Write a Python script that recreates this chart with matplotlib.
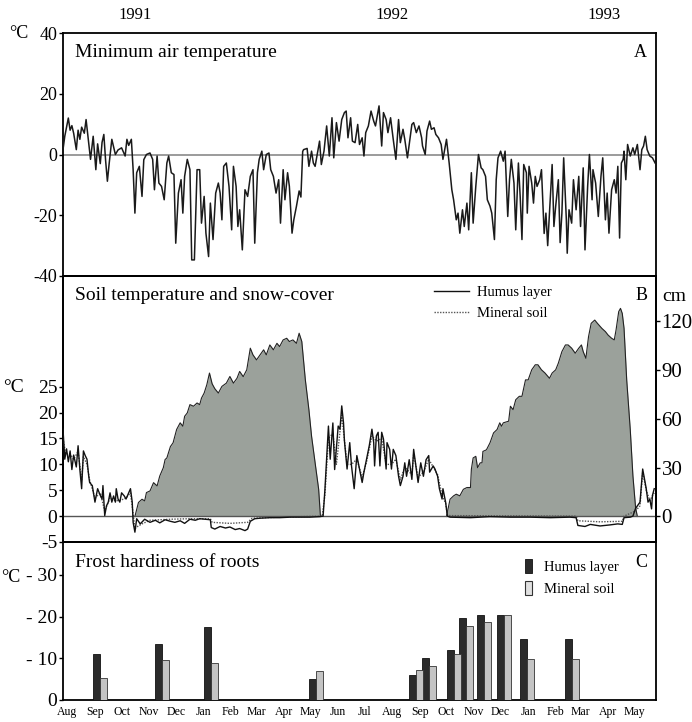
import datetime as dt
import numpy as np
import matplotlib
matplotlib.use("Agg")
import matplotlib.pyplot as plt
from matplotlib.lines import Line2D
from matplotlib.patches import Patch
import matplotlib.transforms as mtransforms

plt.rcParams['font.family'] = ['Liberation Serif', 'DejaVu Serif']

# ---------------- DATA (x = days since 1 Aug 1991) ----------------
air_day = [0, 2, 6, 8, 10, 12, 15, 17, 19, 21, 24, 26, 31, 34, 37, 39, 42, 44, 46, 48, 50, 52, 55, 59, 62, 66,
           70, 72, 74, 77, 79, 81, 83, 86, 89, 91, 94, 98, 101, 103, 106, 108, 111, 114, 117, 119, 122, 125, 127,
           130, 133, 135, 137, 140, 143, 145, 148, 151, 154, 156, 159, 161, 164, 166, 169, 172, 175, 177, 179,
           181, 184, 187, 190, 192, 195, 197, 199, 202, 205, 208, 211, 214, 216, 219, 221, 224, 226, 229, 232,
           234, 237, 240, 243, 245, 248, 250, 253, 255, 258, 260, 263, 266, 268, 270, 271, 275, 277, 280, 282,
           284, 286, 289, 291, 294, 297, 300, 303, 305, 308, 311, 314, 317, 319, 321, 324, 326, 329, 332, 334,
           337, 339, 341, 344, 347, 350, 352, 354, 356, 359, 361, 364, 366, 369, 372, 375, 378, 380, 383, 385,
           388, 390, 393, 395, 398, 401, 404, 405, 408, 410, 413, 415, 418, 420, 423, 426, 428, 430, 432, 435,
           438, 440, 443, 445, 447, 450, 452, 455, 457, 460, 462, 465, 468, 471, 473, 476, 478, 481, 483, 486,
           488, 490, 493, 496, 498, 501, 503, 505, 508, 510, 513, 515, 517, 519, 522, 523, 525, 528, 530, 532,
           534, 537, 539, 542, 544, 546, 548, 551, 553, 555, 558, 560, 562, 564, 567, 568, 570, 573, 575, 578,
           581, 583, 586, 588, 591, 593, 596, 597, 600, 603, 606, 608, 611, 613, 615, 618, 621, 623, 625, 627,
           629, 631, 632, 634, 636, 639, 642, 644, 647, 650, 652, 654, 656, 658, 661, 664, 667]
air_min = [1.6, 6, 12, 8, 9.5, 7, 1.6, 8, 5, 9, 7, 11.5, -1.6, 6, -5, 3.5, -3, 4, 6.6, -2, -8.8, -3, 5, 0, 1.5, 2.2,
           -0.5, 5, 3, 5, -5, -19.3, -6, -3.9, -13.8, -1.7, 0, 0.5, -1.6, -11.6, -0.5, -9.4, -10.5, -14.9, -2.8,
           -0.5, -6, -6.6, -29.2, -12.7, -8.3, -19.3, -7.2, -1.6, -5, -34.7, -34.7, -5, -5, -22.6, -13.8, -25.9,
           -33.6, -16, -28, -12.7, -9.4, -12.7, -21.5, -3.9, -2.8, -10.5, -24.8, -3.9, -10.5, -23.7, -18.2, -31.4,
           -11.6, -13.8, -7.2, -5, -29.2, -6, -1.6, 1.1, -5, 0, 0.5, -5, -7.2, -12.7, -8.3, -22.6, -5, -14.9, -6,
           -10.5, -25.9, -21.5, -17, -12, -14, 1, 1.6, 2, -3.9, 1.1, -2.8, -3.9, -0.5, 4.4, -3.3, 1.1, 9.4, -0.5,
           12.1, -1.1, 10.5, 4.4, 11.5, 13.8, 14.3, 5.5, 12.1, 4.4, 3.9, 9.9, 3.3, 5.5, -0.5, 7.2, 9.4, 14.3, 11,
           9.4, 12.7, 16, 2.8, 13.8, 11.5, 7.2, 12.1, 5, -1.6, 11.5, 3.9, 8.3, 5, -1.1, 3.3, 9.9, 10.5, 7.2, 9.4,
           5.5, 2.8, 0, 7.7, 11, 8.3, 8.8, 6.6, 5.5, 3.3, -1.6, 1.6, 5, -2.8, -11.6, -14.9, -21.5, -19.3, -25.9,
           -18.2, -23.7, -16, -24.8, -6, -22.6, -10.5, 0, -4.4, -5, -7.2, -14.9, -17, -19.3, -28, -8.3, -1.1, 1.1,
           -2.2, 1.1, -20.4, -8.3, -1.6, -9.4, -24.8, -2.8, -13.8, -28, -3.3, -6, -19.3, -3.9, -9.4, -16, -7.2,
           -10.5, -8.3, -5, -26, -19.3, -30, -19.3, -3.3, -23.7, -17, -8.3, -29, -19.3, -1.1, -21.5, -32.5, -18.2,
           -22.6, -8.3, -18.2, -7.2, -23.7, -4.4, -31.4, -10.5, 0, -14.9, -5, -9.4, -20.4, -7.2, -1.1, -21.5,
           -12.7, -25.9, -11.6, -8.3, -12.7, -3.9, -27.5, -2.8, -1.6, 1.1, -8.3, 3.3, -0.5, 2.2, 0, 3.3, -5, 1.6,
           2.8, 6, 1.6, -0.5, -1.1, -2.8]

humus_day = [0, 2, 4, 6, 8, 10, 12, 15, 17, 19, 21, 23, 25, 27, 29, 30, 33, 36, 39, 42, 44, 45, 47, 49, 51, 53, 55,
             57, 59, 60, 62, 64, 66, 69, 71, 74, 76, 78, 79, 81, 83, 87, 92, 98, 104, 109, 115, 121, 126, 132, 137,
             143, 149, 154, 160, 166, 167, 171, 177, 183, 188, 194, 199, 205, 208, 211, 216, 222, 233, 244, 256,
             267, 278, 289, 293, 295, 299, 301, 304, 306, 310, 312, 314, 316, 317, 320, 323, 325, 328, 331, 334,
             337, 339, 342, 345, 348, 350, 351, 353, 355, 357, 359, 361, 364, 365, 368, 370, 372, 375, 378, 380,
             383, 385, 387, 390, 393, 395, 398, 400, 403, 406, 409, 412, 413, 417, 419, 422, 424, 427, 428, 431,
             433, 436, 459, 481, 504, 526, 549, 571, 578, 580, 588, 594, 605, 616, 625, 630, 632, 639, 642, 645,
             650, 653, 655, 657, 659, 661, 663, 664, 666]
humus_temp = [16.8, 11, 13, 10.5, 12.6, 9, 11.8, 9.5, 13.6, 9, 5.3, 12.6, 11.7, 11, 7.7, 6.5, 5.9, 2.7, 5.3, 4,
              3.3, 5.9, 0.1, 2, 2.7, 4.5, 2.7, 3.9, 2.7, 5.3, 3.3, 2.7, 4.5, 3.9, 3.3, 4.5, 5.3, 2.7, -1.2, -3.1,
              -0.5, -1.5, -0.6, -1.2, -0.8, -1.3, -0.7, -1.0, -1.2, -0.9, -1.4, -0.6, -0.8, -0.5, -0.6, -0.7,
              -2.2, -2.5, -2.0, -2.3, -2.1, -2.6, -2.4, -2.8, -2.5, -1.0, -0.5, -0.4, -0.3, -0.3, -0.2, -0.2,
              -0.2, -0.1, 0, 5, 17.4, 11, 18, 9, 17.4, 16.8, 21.3, 18, 14.6, 9.1, 14.2, 9.7, 5.3, 11.7, 9.1, 6.5,
              8.5, 11.1, 13.6, 16.8, 14.2, 9.7, 15.5, 16.2, 9.7, 16.2, 14.9, 9.1, 14.2, 12.9, 9.1, 12.9, 11.7,
              7.7, 5.9, 7.7, 10.3, 7.7, 10.9, 7.1, 12.9, 9.1, 6.5, 10.3, 7.7, 10.9, 11.7, 8.5, 9.7, 9.1, 7.7,
              5.3, 3.3, 5.3, 2.7, 0, -0.2, -0.3, -0.1, -0.2, -0.2, -0.3, -0.2, -0.3, -1.8, -2.0, -1.6, -1.9,
              -1.7, -1.5, -1.6, -0.3, -0.2, 0, 1.5, 2.7, 9.1, 7.2, 5.3, 2.7, 3.3, 1.4, 4, 5.3]

mineral_day = [0, 3, 8, 12, 17, 21, 23, 27, 30, 36, 42, 47, 53, 59, 64, 71, 76, 79, 81, 84, 89, 98, 121, 143, 166,
               168, 188, 208, 213, 244, 292, 295, 299, 304, 308, 314, 320, 325, 331, 337, 342, 348, 353, 359, 364,
               370, 375, 380, 385, 393, 395, 400, 406, 412, 417, 422, 427, 431, 433, 436, 578, 580, 605, 630, 632,
               645, 650, 653, 657, 661, 666]
mineral_temp = [15, 12, 12, 11, 12.5, 7, 11.5, 10, 7, 3.5, 4.5, 1, 3.5, 3, 3, 3.5, 4.5, 0.5, -2.4, -2, -1.5, -0.8,
                -0.6, -0.5, -0.5, -1.2, -1.4, -1.2, -0.4, -0.2, 0, 4, 15, 16, 10, 19.5, 10, 10, 11, 7.5, 10.5,
                15.5, 14.5, 15, 10, 10, 11, 7, 9.5, 8, 12, 7.5, 8.5, 11, 9.5, 8, 4, 2.5, 0.2, 0.1, 0, -0.9, -1.1,
                -1.0, 0, 1, 2, 8.5, 5, 3, 4.5]

snow1_day = [81, 85, 89, 92, 94, 98, 102, 106, 109, 113, 115, 117, 121, 124, 128, 132, 135, 137, 140, 143, 147,
             151, 154, 156, 159, 162, 165, 168, 171, 175, 179, 184, 188, 192, 196, 199, 203, 207, 211, 214, 218,
             222, 226, 229, 233, 237, 241, 244, 248, 252, 255, 259, 263, 266, 269, 273, 277, 280, 284, 288, 290]
snow1_cm = [0, 8.6, 10.6, 9.6, 14.7, 15.7, 20.8, 18.8, 24.9, 30, 35, 36, 43, 45.3, 53.5, 57.6, 55.5, 61.6, 63.7,
            68.8, 67.8, 69.8, 68.8, 72.8, 75.9, 81, 88.2, 81.6, 78.6, 75.9, 80, 82, 86.1, 82, 85, 89.2, 86, 90.2,
            103.5, 99.4, 96.3, 99.4, 102.5, 99.4, 105.5, 102.5, 106.5, 104.5, 108.6, 109.6, 107.6, 108.6, 106.5,
            112.7, 107.6, 84, 65.7, 49.4, 33, 16.7, 0]
snow2_day = [432, 436, 440, 443, 447, 451, 455, 459, 460, 462, 465, 467, 470, 472, 473, 477, 481, 485, 489, 492,
             494, 496, 502, 504, 507, 510, 514, 517, 521, 524, 528, 532, 535, 539, 543, 548, 551, 555, 558, 562,
             566, 569, 573, 577, 581, 584, 586, 589, 592, 595, 599, 602, 607, 611, 614, 618, 621, 623, 626, 628,
             630, 632, 635, 639, 642, 645, 647]
snow2_cm = [0, 10.6, 12.7, 13.7, 12.7, 16.7, 17.8, 17.8, 29, 36, 37, 30, 33, 33, 40, 41, 45.3, 51.4, 53.5, 57.6,
            55.5, 57.6, 58.6, 67.8, 65.7, 71.8, 73.9, 73.9, 84, 84, 90.2, 93.3, 93.3, 90.2, 88.2, 85, 88.2, 90.2,
            94.3, 101.4, 105.5, 105.5, 103.5, 100.4, 103.5, 105.5, 101.4, 97.3, 110.6, 118.8, 120.8, 118.8, 115.7,
            113.7, 111.6, 109.6, 108.6, 114.7, 126, 128, 124.9, 115.7, 84, 53.5, 25, 5.5, 0]

sample_day = [42, 112, 167, 285, 398, 412, 440, 454, 474, 497, 523, 573]
hardiness_humus = [11, 13.5, 17.5, 5, 6, 10, 12, 19.6, 20.5, 20.5, 14.7, 14.7]
hardiness_mineral = [5.2, 9.7, 8.8, 7, 7.1, 8.1, 11, 17.8, 18.7, 20.5, 9.9, 9.9]

month_labels = ['Aug', 'Sep', 'Oct', 'Nov', 'Dec', 'Jan', 'Feb', 'Mar', 'Apr', 'May', 'Jun', 'Jul',
                'Aug', 'Sep', 'Oct', 'Nov', 'Dec', 'Jan', 'Feb', 'Mar', 'Apr', 'May']
year_labels = ['1991', '1992', '1993']
year_label_day = [81, 371, 610]

# ---------------- FIGURE ----------------
W, H = 692, 722
fig = plt.figure(figsize=(W / 100, H / 100), dpi=100)
L, R = 63, 656


def axes_px(top, bottom):
    return fig.add_axes([L / W, 1 - bottom / H, (R - L) / W, (bottom - top) / H])


axA = axes_px(33, 276)
axB = axes_px(276, 542)
axC = axes_px(542, 700)
XLIM = (0, 668)

for ax in (axA, axB, axC):
    ax.set_xlim(*XLIM)
    for s in ax.spines.values():
        s.set_linewidth(1.3)
    ax.tick_params(axis='y', direction='out', length=3, width=1, pad=1)
    ax.tick_params(axis='x', length=0)

# ---- Panel A ----
axA.axhline(0, color='#8a8a8a', lw=1.2, zorder=1)
axA.plot(air_day, air_min, color='#1a1a1a', lw=1.1, zorder=3)
axA.set_ylim(-40, 40)
axA.set_yticks([40, 20, 0, -20, -40])
axA.set_yticklabels(['40', '20', '0', '-20', '-40'], fontsize=13)
axA.set_xticks([])
axA.text(0.02, 0.92, 'Minimum air temperature', transform=axA.transAxes, fontsize=14, va='center', ha='left')
axA.text(0.985, 0.92, 'A', transform=axA.transAxes, fontsize=13, va='center', ha='right')
trans_top = mtransforms.blended_transform_factory(axA.transData, axA.transAxes)
for d, lab in zip(year_label_day, year_labels):
    axA.text(d, 1.075, lab, transform=trans_top, fontsize=12, ha='center', va='center')
fig.text(19 / W, 1 - 33 / H, '°C', fontsize=13, ha='center', va='center')

# ---- Panel B ----
axB2 = axB.twinx()
axB2.set_xlim(*XLIM)
axB2.fill_between(snow1_day, 0, snow1_cm, color='#9ba19b', lw=0, zorder=1)
axB2.fill_between(snow2_day, 0, snow2_cm, color='#9ba19b', lw=0, zorder=1)
axB2.plot(snow1_day, snow1_cm, color='#222222', lw=0.8, zorder=2)
axB2.plot(snow2_day, snow2_cm, color='#222222', lw=0.8, zorder=2)
axB2.set_ylim(-15.7, 147.9)
axB2.set_yticks([0, 30, 60, 90, 120])
axB2.tick_params(axis='y', direction='out', length=3, width=1, pad=1, labelsize=15)
for s in axB2.spines.values():
    s.set_linewidth(1.3)
axB.set_zorder(axB2.get_zorder() + 1)
axB.patch.set_visible(False)

axB.axhline(0, color='#555555', lw=1.0, zorder=1)
axB.plot(mineral_day, mineral_temp, color='#555555', lw=1.0, ls=(0, (1, 1)), zorder=3)
axB.plot(humus_day, humus_temp, color='#111111', lw=1.0, zorder=4)
axB.set_ylim(-5, 46.4)
axB.set_yticks([25, 20, 15, 10, 5, 0, -5])
axB.set_yticklabels(['25', '20', '15', '10', '5', '0', '-5'], fontsize=14)
axB.set_xticks([])
axB.text(0.02, 0.925, 'Soil temperature and snow-cover', transform=axB.transAxes, fontsize=14,
         va='center', ha='left')
axB.text(0.985, 0.925, 'B', transform=axB.transAxes, fontsize=13, va='center', ha='right')
fig.text(674 / W, 1 - 296 / H, 'cm', fontsize=14, ha='center', va='center')
fig.text(14 / W, 1 - 387 / H, '°C', fontsize=14, ha='center', va='center')
legB = axB.legend(handles=[Line2D([], [], color='#111111', lw=1.0),
                           Line2D([], [], color='#555555', lw=1.0, ls=(0, (1, 1)))],
                  labels=['Humus layer', 'Mineral soil'], loc='upper left',
                  bbox_to_anchor=(0.615, 0.985), frameon=False, fontsize=10.5,
                  handlelength=2.4, handletextpad=0.6, labelspacing=0.55, borderaxespad=0)

# ---- Panel C ----
bw = 7.9
xs = np.array(sample_day, dtype=float)
axC.bar(xs - bw / 2, hardiness_humus, width=bw, color='#2b2b2b', edgecolor='#111111', lw=0.6, zorder=3)
axC.bar(xs + bw / 2, hardiness_mineral, width=bw, color='#c4c4c4', edgecolor='#333333', lw=0.6, zorder=3)
axC.set_ylim(0, 37.9)
axC.set_yticks([0, 10, 20, 30])
axC.set_yticklabels(['0', '- 10', '- 20', '- 30'], fontsize=14)
fig.text(11 / W, 1 - 578 / H, '°C', fontsize=13, ha='center', va='center')

base = dt.date(1991, 8, 1)
month_start = []
y, m = 1991, 8
for _ in month_labels:
    month_start.append((dt.date(y, m, 1) - base).days + 5)
    m += 1
    if m > 12:
        m, y = 1, y + 1
axC.set_xticks(month_start)
axC.set_xticklabels(month_labels, fontsize=8.5)
axC.tick_params(axis='x', pad=4)
axC.text(0.985, 0.87, 'C', transform=axC.transAxes, fontsize=13, va='center', ha='right')
axC.text(0.02, 0.87, 'Frost hardiness of roots', transform=axC.transAxes, fontsize=14, va='center', ha='left')
legC = axC.legend(handles=[Patch(facecolor='#2b2b2b', edgecolor='#111111', lw=0.6),
                           Patch(facecolor='#e0e0e0', edgecolor='#333333', lw=0.8)],
                  labels=['Humus layer', 'Mineral soil'], loc='upper left',
                  bbox_to_anchor=(0.77, 0.93), frameon=False, fontsize=10.5,
                  handlelength=0.45, handleheight=1.1, handletextpad=0.8, labelspacing=0.5, borderaxespad=0)

fig.savefig('out.png', dpi=100)
